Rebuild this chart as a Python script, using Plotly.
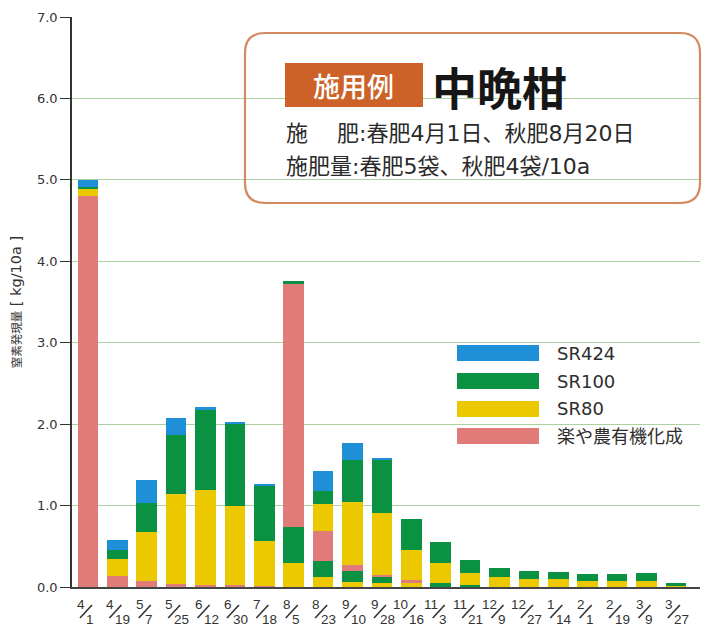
import plotly.graph_objects as go

# ---- data ----
months = ["4", "4", "5", "5", "6", "6", "7", "8", "8", "9", "9",
          "10", "11", "11", "12", "12", "1", "2", "2", "3", "3"]
days = ["1", "19", "7", "25", "12", "30", "18", "5", "23", "10", "28",
        "16", "3", "21", "9", "27", "14", "1", "19", "9", "27"]

# spring application (春肥)
spring_raku = [4.80, 0.13, 0.07, 0.04, 0.03, 0.02, 0.01, 0, 0, 0, 0,
               0, 0, 0, 0, 0, 0, 0, 0, 0, 0]
spring_sr80 = [0.09, 0.22, 0.60, 1.10, 1.165, 0.98, 0.56, 0.295, 0.12, 0.06, 0.05,
               0.06, 0, 0, 0, 0, 0, 0, 0, 0, 0]
spring_sr100 = [0.02, 0.10, 0.36, 0.73, 0.98, 1.01, 0.68, 0.44, 0.20, 0.14, 0.07,
                0, 0.05, 0.02, 0, 0, 0, 0, 0, 0, 0]
spring_sr424 = [0.09, 0.13, 0.29, 0.20, 0.04, 0.02, 0.02, 0, 0, 0, 0,
                0, 0, 0, 0, 0, 0, 0, 0, 0, 0]
# autumn application (秋肥)
autumn_raku = [0, 0, 0, 0, 0, 0, 0, 2.98, 0.37, 0.065, 0.03,
               0.02, 0, 0, 0, 0, 0, 0, 0, 0, 0]
autumn_sr80 = [0, 0, 0, 0, 0, 0, 0, 0, 0.33, 0.785, 0.76,
               0.37, 0.24, 0.155, 0.12, 0.10, 0.095, 0.075, 0.075, 0.075, 0.01]
autumn_sr100 = [0, 0, 0, 0, 0, 0, 0, 0.04, 0.16, 0.51, 0.65,
                0.38, 0.26, 0.155, 0.115, 0.10, 0.09, 0.08, 0.08, 0.10, 0.04]
autumn_sr424 = [0, 0, 0, 0, 0, 0, 0, 0, 0.24, 0.21, 0.02,
                0, 0, 0, 0, 0, 0, 0, 0, 0, 0]

legend_names = ["SR424", "SR100", "SR80", "楽や農有機化成"]
y_ticks = [0, 1, 2, 3, 4, 5, 6, 7]

# ---- styles ----
C_BLUE = "#1f8fd8"
C_GREEN = "#0a9142"
C_YELLOW = "#ecc800"
C_PINK = "#e07b7a"
colors = {"SR424": C_BLUE, "SR100": C_GREEN, "SR80": C_YELLOW, "楽や農有機化成": C_PINK}

W, H = 711, 627
ML, MR, MT, MB = 72, 11, 17, 40
PW, PH = W - ML - MR, H - MT - MB


def px(xp):
    return (xp - ML) / PW


def py(yp):
    return (H - MB - yp) / PH


x = list(range(len(months)))
stack = [
    ("楽や農有機化成", spring_raku),
    ("SR80", spring_sr80),
    ("SR100", spring_sr100),
    ("SR424", spring_sr424),
    ("楽や農有機化成", autumn_raku),
    ("SR80", autumn_sr80),
    ("SR100", autumn_sr100),
    ("SR424", autumn_sr424),
]

fig = go.Figure()
for name, vals in stack:
    fig.add_trace(go.Bar(
        x=x, y=vals, name=name, showlegend=False,
        marker=dict(color=colors[name], line=dict(width=0)),
    ))

shapes = []
annotations = []
LBL_FONT = dict(size=13.5, color="#333",
                family="Liberation Sans Narrow, Liberation Sans, sans-serif")

# x tick labels: month / day with slanted slash
for i, (m, d) in enumerate(zip(months, days)):
    annotations.append(dict(x=i, xref="x", y=0, yref="paper", text=m,
                            showarrow=False, xanchor="right", yanchor="middle",
                            xshift=-1, yshift=-17, font=LBL_FONT))
    annotations.append(dict(x=i, xref="x", y=0, yref="paper", text=d,
                            showarrow=False, xanchor="left", yanchor="middle",
                            xshift=-4, yshift=-32, font=LBL_FONT))
    shapes.append(dict(type="line", xref="x", xsizemode="pixel", xanchor=i,
                       x0=-8, x1=4, yref="paper", ysizemode="pixel", yanchor=0,
                       y0=-31, y1=-18, line=dict(color="#333", width=1.6)))

# info box (rounded rectangle)
bx0, bx1, by0, by1 = 245, 700, 33, 203
r = 20
rx, ry = r / PW, r / PH
X0, X1, Y0, Y1 = px(bx0), px(bx1), py(by1), py(by0)
path = (f"M {X0+rx},{Y1} L {X1-rx},{Y1} Q {X1},{Y1} {X1},{Y1-ry} "
        f"L {X1},{Y0+ry} Q {X1},{Y0} {X1-rx},{Y0} L {X0+rx},{Y0} "
        f"Q {X0},{Y0} {X0},{Y0+ry} L {X0},{Y1-ry} Q {X0},{Y1} {X0+rx},{Y1} Z")
shapes.append(dict(type="path", xref="paper", yref="paper", path=path,
                   line=dict(color="#d48a60", width=2.2), fillcolor="rgba(0,0,0,0)"))
# orange label
shapes.append(dict(type="rect", xref="paper", yref="paper",
                   x0=px(285), x1=px(423), y0=py(107), y1=py(63),
                   line=dict(width=0), fillcolor="#cd6228"))
annotations.append(dict(x=px(353), y=py(85), xref="paper", yref="paper",
                        text="施用例", showarrow=False, xanchor="center", yanchor="middle",
                        font=dict(size=27, color="white", family="Noto Sans CJK JP",
                                  weight=500)))
annotations.append(dict(x=px(430), y=py(86), xref="paper", yref="paper",
                        text="<b>中晩柑</b>", showarrow=False, xanchor="left", yanchor="middle",
                        font=dict(size=45, color="#161616", family="Noto Sans CJK JP")))
BOX_FONT = dict(size=22, color="#2a2a2a", family="DejaVu Sans, Noto Sans CJK JP")
annotations.append(dict(x=px(284), y=py(133), xref="paper", yref="paper",
                        text="施　 肥:春肥4月1日、秋肥8月20日", showarrow=False,
                        xanchor="left", yanchor="middle", font=BOX_FONT))
annotations.append(dict(x=px(284), y=py(166), xref="paper", yref="paper",
                        text="施肥量:春肥5袋、秋肥4袋/10a", showarrow=False,
                        xanchor="left", yanchor="middle", font=BOX_FONT))

# legend drawn manually
leg_rows = [353, 381, 409, 436]
for name, yc in zip(legend_names, leg_rows):
    shapes.append(dict(type="rect", xref="paper", yref="paper",
                       x0=px(457), x1=px(539), y0=py(yc + 8), y1=py(yc - 8),
                       line=dict(width=0), fillcolor=colors[name]))
    annotations.append(dict(x=px(555), y=py(yc), xref="paper", yref="paper",
                            text=name, showarrow=False, xanchor="left", yanchor="middle",
                            font=dict(size=18, color="#2e2e2e",
                                      family="DejaVu Sans, Noto Sans CJK JP")))

y_title = ('<span style="font-size:11.5px">窒素発現量</span>'
           '<span style="font-size:14.5px"> [ kg/10a ]</span>')

fig.update_layout(
    width=W, height=H,
    margin=dict(l=ML, r=MR, t=MT, b=MB, autoexpand=False),
    paper_bgcolor="white", plot_bgcolor="white",
    barmode="stack", bargap=0.3,
    shapes=shapes, annotations=annotations,
    showlegend=False,
    xaxis=dict(range=[-0.544, 20.82], showticklabels=False, ticks="",
               showgrid=False, zeroline=False, showline=True, automargin=False,
               linecolor="#444", linewidth=1.5),
    yaxis=dict(range=[0, 7], tickvals=y_ticks, tickformat=".1f", automargin=False,
               ticks="outside", ticklen=10, tickcolor="#333", tickwidth=1.2,
               showline=True, linecolor="#333", linewidth=1.5,
               gridcolor="#a9d2a0", gridwidth=1, zeroline=False,
               tickfont=dict(size=13, color="#333", family="DejaVu Sans"),
               title=dict(text=y_title, standoff=12,
                          font=dict(size=13, color="#333",
                                    family="DejaVu Sans, Noto Sans CJK JP"))),
)

fig.write_html("out.html", config={"displayModeBar": False},
               post_script="document.body.style.margin='0';document.body.style.padding='0';")
